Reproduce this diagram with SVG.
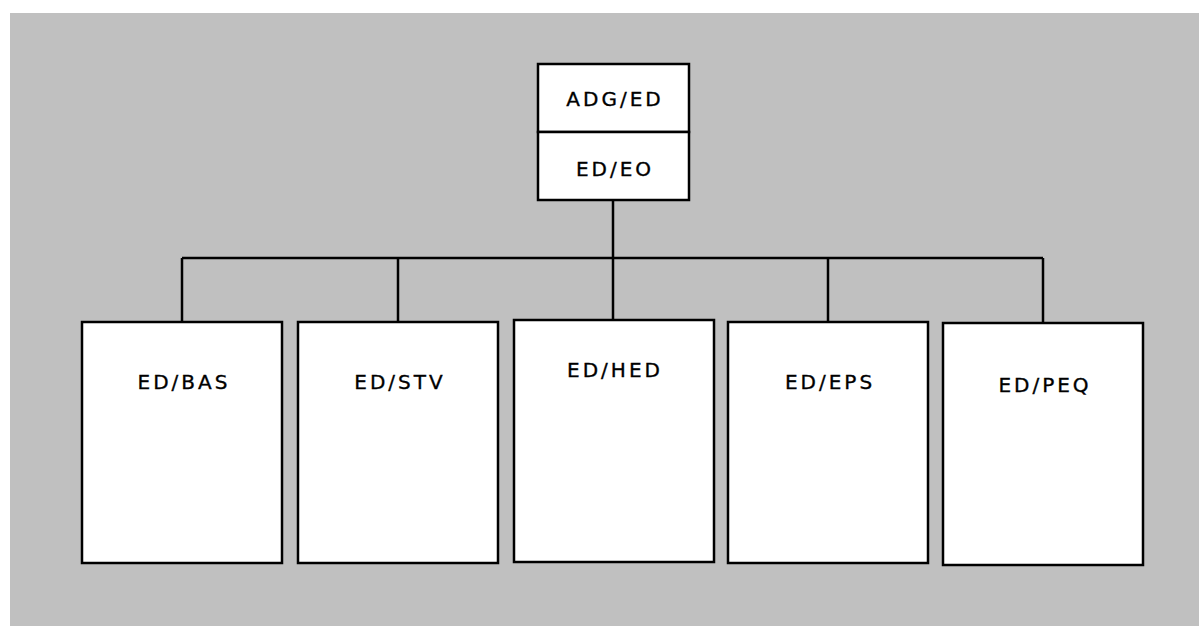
<svg xmlns="http://www.w3.org/2000/svg" width="1199" height="626" viewBox="0 0 1199 626">
<style>
.box{fill:#fff;stroke:#000;stroke-width:2.5}
.lbl{font-family:"DejaVu Sans","Verdana",sans-serif;font-size:20px;letter-spacing:3px;fill:#000;stroke:#000;stroke-width:0.35;text-anchor:middle}
.con{fill:none;stroke:#000;stroke-width:2.5}
</style>
<rect x="0" y="0" width="1199" height="626" fill="#fff"/>
<rect x="10" y="13" width="1189" height="613" fill="#c0c0c0"/>
<g id="connectors">
<line class="con" x1="613" y1="200" x2="613" y2="258"/>
<line class="con" x1="182" y1="258" x2="1043" y2="258"/>
<line class="con" x1="182" y1="258" x2="182" y2="322"/>
<line class="con" x1="398" y1="258" x2="398" y2="322"/>
<line class="con" x1="613" y1="258" x2="613" y2="320"/>
<line class="con" x1="828" y1="258" x2="828" y2="322"/>
<line class="con" x1="1043" y1="258" x2="1043" y2="323"/>
</g>
<g id="adg-ed"><rect class="box" x="538" y="64" width="151" height="68"/><text class="lbl" x="615" y="106">ADG/ED</text></g>
<g id="ed-eo"><rect class="box" x="538" y="132" width="151" height="68"/><text class="lbl" x="615" y="176">ED/EO</text></g>
<g id="ed-bas"><rect class="box" x="82" y="322" width="200" height="241"/><text class="lbl" x="184" y="389">ED/BAS</text></g>
<g id="ed-stv"><rect class="box" x="298" y="322" width="200" height="241"/><text class="lbl" x="400" y="389">ED/STV</text></g>
<g id="ed-hed"><rect class="box" x="514" y="320" width="200" height="242"/><text class="lbl" x="615" y="377">ED/HED</text></g>
<g id="ed-eps"><rect class="box" x="728" y="322" width="200" height="241"/><text class="lbl" x="830" y="389">ED/EPS</text></g>
<g id="ed-peq"><rect class="box" x="943" y="323" width="200" height="242"/><text class="lbl" x="1045" y="392">ED/PEQ</text></g>
</svg>
